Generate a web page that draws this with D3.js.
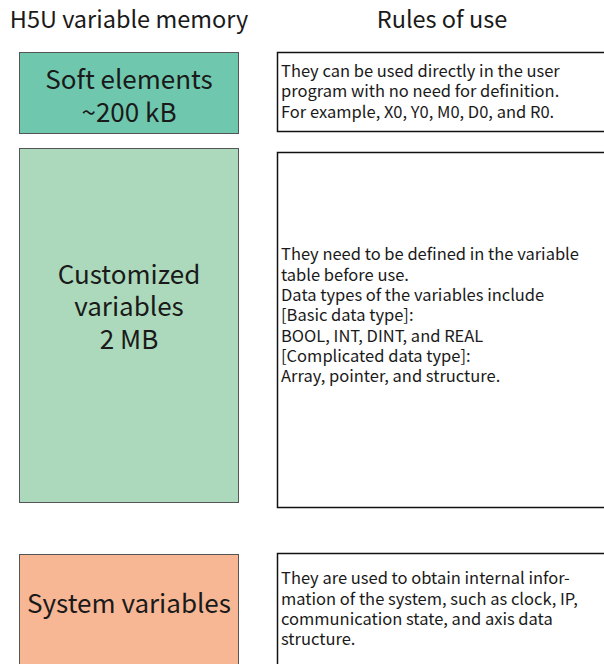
<!DOCTYPE html>
<html><head><meta charset="utf-8">
<script src="https://cdn.jsdelivr.net/npm/d3@7"></script>
<style>body{margin:0;background:#fff}svg{display:block}</style>
</head><body>
<script>
const headers = ["H5U variable memory", "Rules of use"];
const categories = [["Soft elements", "~200 kB"], ["Customized", "variables", "2 MB"], ["System variables"]];
const colors = ["#6fc8ae", "#acd9bb", "#f7b694"];
const rules = [
  ["They can be used directly in the user", "program with no need for definition.", "For example, X0, Y0, M0, D0, and R0."],
  ["They need to be defined in the variable", "table before use.", "Data types of the variables include", "[Basic data type]:", "BOOL, INT, DINT, and REAL", "[Complicated data type]:", "Array, pointer, and structure."],
  ["They are used to obtain internal infor-", "mation of the system, such as clock, IP,", "communication state, and axis data", "structure."]
];

// layout (not data)
const leftBoxes = [{y0:52,y1:133},{y0:148,y1:502},{y0:554,y1:700}];
const rightBoxes = [{y0:52,y1:131},{y0:152,y1:507},{y0:553,y1:700}];
const leftTextCenter = [96.5, 307, 604];
const leftLineH = [33, 32.5, 32];
const rightTextCenter = [91.5, 315.5, 609];
const rightLineH = 20.3;

const W = 604, H = 664;
const font = "'Noto Sans CJK SC', 'Noto Sans', sans-serif";
const svg = d3.select("body").append("svg").attr("width", W).attr("height", H);

const xCol = d3.scaleOrdinal().domain([0,1]).range([129, 442]);
svg.selectAll("text.hdr").data(headers).join("text").attr("class","hdr")
  .attr("x",(d,i)=>xCol(i)).attr("y",28).attr("text-anchor","middle")
  .attr("font-family",font).attr("font-size",23.5).attr("fill","#1a1a1a").text(d=>d);

const L = svg.selectAll("g.left").data(categories).join("g").attr("class","left");
L.append("rect").attr("x",19.5).attr("y",(d,i)=>leftBoxes[i].y0+0.5)
  .attr("width",219).attr("height",(d,i)=>leftBoxes[i].y1-leftBoxes[i].y0)
  .attr("fill",(d,i)=>colors[i]).attr("stroke","#555").attr("stroke-width",1);
L.each(function(lines,i){
  const lh = leftLineH[i];
  const c = leftTextCenter[i];
  const t = d3.select(this).append("text").attr("text-anchor","middle")
    .attr("font-family",font).attr("font-size",26).attr("fill","#1a1a1a");
  t.selectAll("tspan").data(lines).join("tspan")
    .attr("x",129).attr("y",(d,j)=>c + (j-(lines.length-1)/2)*lh + 9.1)
    .text(d=>d);
});

const R = svg.selectAll("g.right").data(rules).join("g").attr("class","right");
R.append("rect").attr("x",277.5).attr("y",(d,i)=>rightBoxes[i].y0+0.5)
  .attr("width",360).attr("height",(d,i)=>rightBoxes[i].y1-rightBoxes[i].y0)
  .attr("fill","#fff").attr("stroke","#111").attr("stroke-width",1.5);
R.each(function(lines,i){
  const c = rightTextCenter[i];
  const t = d3.select(this).append("text")
    .attr("font-family",font).attr("font-size",16.5).attr("fill","#1a1a1a");
  t.selectAll("tspan").data(lines).join("tspan")
    .attr("x",281).attr("y",(d,j)=>c + (j-(lines.length-1)/2)*rightLineH + 5.8)
    .text(d=>d);
});
</script>
</body></html>
